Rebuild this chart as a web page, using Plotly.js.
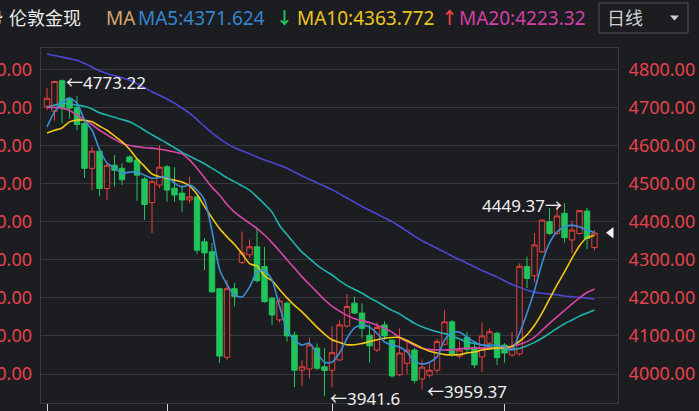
<!DOCTYPE html>
<html><head><meta charset="utf-8">
<script src="https://cdn.plot.ly/plotly-3.0.1.min.js"></script>
<style>html,body{margin:0;padding:0;background:#1c1d21;overflow:hidden}#chart{width:699px;height:411px}</style>
</head><body><div id="chart"></div>
<script>
// ---- data ----
const openP = [4703,4690,4770,4724,4700,4658,4540,4585,4487,4548, 4540,4570,4562,4512,4450,4496,4544,4488,4475,4457, 4465,4347,4321,4224,4044,4224,4293,4313,4334,4282, 4199,4142,4186,4102,4010,4013,4068,4019,4010,4037, 4126,4186,4160,4102,4063,4129,4089,3998,4028,4063, 3987,3997,4010,4078,4137,4047,4096,4070,4045,4081, 4107,4076,4050,4053,4282,4258,4321,4400,4369,4422, 4352,4369,4428,4332];
const highP = [4751,4770,4773.22,4728,4730,4665,4597,4587,4553,4575, 4553,4574,4567,4517,4510,4601,4549,4543,4496,4518, 4468,4357,4344,4226,4247,4239,4374,4353,4385,4334, 4203,4199,4190,4111,4036,4095,4080,4068,4125,4141, 4210,4203,4186,4130,4135,4138,4090,4120,4085,4068, 4038,4028,4092,4168,4142,4085,4110,4081,4135,4120, 4111,4081,4110,4290,4308,4370,4406,4436,4440,4449.37, 4400,4431,4436,4378];
const lowP = [4693,4665,4658,4670,4640,4515,4483,4467,4457,4492, 4496,4554,4455,4405,4370,4488,4452,4452,4426,4449, 4315,4273,4213,4029,4037,4177,4288,4305,4240,4187, 4129,4135,4085,3965,3968,3989,4010,3941.6,3965,4034, 4122,4158,4094,4030,4058,4090,3990,3994,4000,3975, 3959.37,3990,4002,4075,4045,4040,4055,4016,4005,4075, 4024,4030,4045,4048,4225,4240,4318,4365,4366,4345, 4317,4366,4328,4325];
const closeP = [4724,4768,4700,4698,4655,4540,4585,4487,4548,4535, 4510,4557,4522,4445,4505,4543,4483,4470,4457,4465, 4325,4318,4216,4047,4224,4204,4318,4334,4245,4190, 4155,4192,4100,4010,4019,4076,4015,4009,4056,4129, 4177,4160,4120,4074,4122,4100,3995,4055,4063,3983, 4018,4010,4085,4137,4052,4063,4065,4024,4100,4111, 4043,4055,4068,4283,4251,4339,4404,4369,4415,4358, 4378,4429,4356,4370];
const ma5 = [4649,4688,4714,4724,4711,4667,4640,4590,4554,4541, 4527,4530,4530,4522,4514,4516,4518,4501,4491,4496, 4483,4457,4375,4275,4235,4208,4202,4228,4268,4273, 4247,4178,4115,4089,4076,4081,4055,4031,4031,4055, 4094,4121,4129,4123,4107,4084,4076,4071,4058,4033, 4026,4031,4045,4089,4110,4110,4097,4084,4076,4076, 4076,4071,4063,4107,4160,4220,4291,4344,4373,4386, 4391,4386,4378,4371.624];
const ma10 = [4633,4640,4646,4662,4667,4666,4662,4651,4640,4625, 4610,4590,4565,4545,4525,4518,4514,4509,4504,4494, 4472,4440,4410,4382,4360,4340,4316,4290,4283,4258, 4245,4222,4200,4180,4163,4143,4123,4105,4090,4083, 4077,4077,4080,4085,4090,4094,4096,4096,4088,4078, 4068,4060,4055,4051,4050,4051,4055,4058,4063,4066, 4068,4069,4073,4086,4103,4128,4160,4197,4234,4268, 4304,4337,4358,4363.772];
const ma20 = [4700,4700,4698,4692,4680,4667,4655,4640,4628,4616, 4606,4600,4597,4594,4593,4590,4587,4583,4578,4562, 4540,4515,4490,4470,4445,4425,4410,4396,4382,4365, 4345,4323,4300,4278,4255,4235,4215,4195,4178,4165, 4154,4145,4140,4135,4128,4120,4110,4096,4085,4075, 4068,4064,4063,4063,4064,4066,4068,4068,4068,4068, 4068,4070,4073,4078,4085,4097,4115,4133,4150,4167, 4184,4200,4214,4223.32];
const ma30 = [4700,4706,4711,4709,4706,4703,4696,4686,4680,4674, 4668,4662,4652,4640,4628,4617,4606,4594,4582,4572, 4562,4552,4540,4528,4515,4505,4494,4483,4465,4446, 4425,4390,4366,4342,4320,4303,4286,4272,4260,4245, 4232,4222,4212,4200,4190,4178,4167,4158,4145,4133, 4124,4117,4111,4106,4100,4092,4084,4080,4076,4072, 4068,4066,4064,4067,4074,4083,4094,4107,4120,4132, 4142,4152,4160,4168];
const ma60 = [4840,4836,4832,4828,4824,4815,4806,4796,4789,4783, 4778,4771,4762,4752,4741,4732,4722,4711,4698,4685, 4668,4650,4633,4618,4605,4594,4586,4578,4570,4562, 4555,4548,4540,4530,4520,4511,4502,4493,4484,4473, 4462,4451,4440,4430,4420,4410,4400,4388,4375,4362, 4350,4340,4330,4320,4310,4300,4291,4281,4272,4263, 4255,4245,4235,4228,4220,4215,4212,4210,4208,4205, 4203,4201,4199,4197];
const yTicks = [4000,4100,4200,4300,4400,4500,4600,4700,4800];
const yTickText = ["4000.00","4100.00","4200.00","4300.00","4400.00","4500.00","4600.00","4700.00","4800.00"];
const xTicks = [0,16,38,61];
const lastPrice = 4371;
const markHigh = {i:2, v:4773.22, text:"←4773.22"};
const markLow = {i:37, v:3941.6, text:"←3941.6"};
const markLow2 = {i:50, v:3959.37, text:"←3959.37"};
const markHigh2 = {i:69, v:4449.37, text:"4449.37→"};
const titleText = "伦敦金现";
const maLabel = "MA";
const ma5Label = "MA5:4371.624";
const ma10Label = "MA10:4363.772";
const ma20Label = "MA20:4223.32";
const periodLabel = "日线";

// ---- drawing ----
const idx = closeP.map((_, i) => i);
const BG = '#1c1d21';
const FONT = "'Noto Sans', 'Noto Sans CJK SC', sans-serif";
const L = 41, R = 618, T = 48, B = 403;
const px = v => (v - L) / (R - L);
const py = v => (B - v) / (B - T);

const RED = '#e8413e', GREEN = '#21c45b';
const lineTrace = (y, color) => ({type:'scatter', mode:'lines', x:idx, y:y,
  line:{color:color, width:1.6, shape:'spline', smoothing:0.6}, hoverinfo:'skip', showlegend:false});

const traces = [
  {type:'candlestick', x:idx, open:openP, high:highP, low:lowP, close:closeP,
   increasing:{line:{color:RED, width:1}, fillcolor:BG},
   decreasing:{line:{color:GREEN, width:1}, fillcolor:GREEN},
   whiskerwidth:0, hoverinfo:'skip', showlegend:false},
  lineTrace(ma60, '#4a47d2'),
  lineTrace(ma30, '#20b3ad'),
  lineTrace(ma20, '#d845a8'),
  lineTrace(ma10, '#f2c616'),
  lineTrace(ma5, '#3a8fd8'),
  {type:'scatter', mode:'markers', x:[75.2], y:[lastPrice], cliponaxis:false,
   marker:{symbol:'triangle-left', size:10, color:'#f2f2f2'}, hoverinfo:'skip', showlegend:false}
];

const ann = [];
const addData = (m, xanchor, xshift, yshift) => ann.push({x:m.i, y:m.v, xref:'x', yref:'y', text:m.text,
  showarrow:false, xanchor:xanchor, yanchor:'middle', xshift:xshift, yshift:yshift,
  font:{family:FONT, size:17, color:'#f0f0f0'}});
addData(markHigh, 'left', 2, -3);
addData(markLow, 'left', 3, -2);
addData(markLow2, 'left', 3, -2);
addData(markHigh2, 'right', -1, -3);

const addHead = (text, xPix, color, extra) => ann.push(Object.assign({x:px(xPix), y:py(18), xref:'paper', yref:'paper',
  text:text, showarrow:false, xanchor:'left', yanchor:'middle', align:'left', borderpad:0,
  font:{family:FONT, size:19, color:color}}, extra || {}));
addHead('势', 4, '#e8e8e8', {xanchor:'right', font:{family:FONT, size:18, color:'#e8e8e8'}});
addHead(titleText, 8, '#ececec', {font:{family:FONT, size:18, color:'#ececec'}});
addHead(maLabel, 105, '#d8a66c');
addHead(ma5Label, 137, '#3485d0');
addHead('<b>↓</b>', 275, GREEN, {font:{family:FONT, size:17, color:GREEN}});
addHead(ma10Label, 296, '#ecc51e');
addHead('<b>↑</b>', 440, RED, {font:{family:FONT, size:17, color:RED}});
addHead(ma20Label, 458, '#d23fa6', {width:126});
addHead(periodLabel, 606, '#d0d0d0', {font:{family:FONT, size:18, color:'#d0d0d0'}});

const shapes = [
  {type:'rect', xref:'paper', yref:'paper', x0:px(599), x1:px(688), y0:py(33), y1:py(3),
   line:{color:'#555558', width:1}, fillcolor:'rgba(0,0,0,0)'},
  {type:'path', xref:'paper', yref:'paper',
   path:`M ${px(670)} ${py(15.5)} L ${px(679)} ${py(15.5)} L ${px(674.5)} ${py(20.5)} Z`,
   line:{width:0}, fillcolor:'#cfcfcf'}
];

const yBase = {tickvals:yTicks, ticktext:yTickText, range:[3923.9, 4855.9], ticks:'',
  tickfont:{family:FONT, size:18, color:'#e5434b'}, zeroline:false, fixedrange:true};

const layout = {
  width:699, height:411, margin:{l:L, r:699-R, t:T, b:411-B, pad:0},
  paper_bgcolor:BG, plot_bgcolor:BG, showlegend:false, dragmode:false,
  boxgap:0.15, boxgroupgap:0.15,
  xaxis:{range:[-0.8, 76.13], showgrid:false, zeroline:false, showline:true, mirror:true,
    linecolor:'#3a3a3e', linewidth:1, ticks:'outside', tickvals:xTicks, ticklen:8, tickwidth:1,
    tickcolor:'#d8d8d8', showticklabels:false, rangeslider:{visible:false}, fixedrange:true},
  yaxis:Object.assign({side:'right', showgrid:true, gridcolor:'#38383c', gridwidth:1,
    showline:true, mirror:true, linecolor:'#3a3a3e', ticklabelstandoff:6}, yBase),
  yaxis2:Object.assign({side:'left', overlaying:'y', showgrid:false, showline:false,
    ticklabelstandoff:8}, yBase),
  annotations:ann, shapes:shapes
};
// invisible trace to activate the left axis
traces.push({type:'scatter', mode:'lines', x:[idx[0]], y:[closeP[0]], yaxis:'y2',
  line:{width:0}, hoverinfo:'skip', showlegend:false});

Plotly.newPlot('chart', traces, layout, {staticPlot:true, displayModeBar:false});
</script></body></html>
